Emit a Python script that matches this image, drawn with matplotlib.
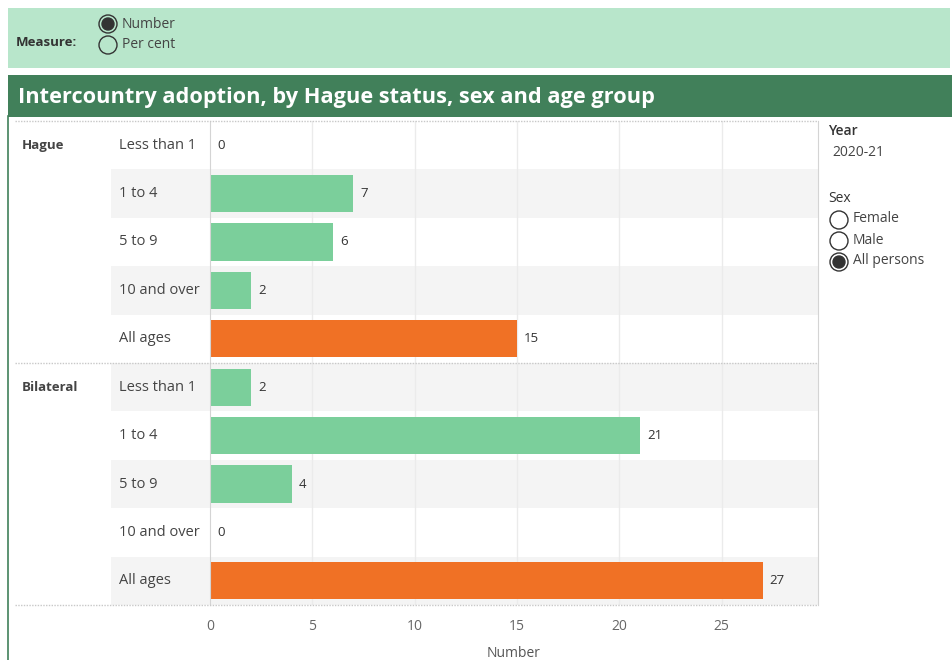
import matplotlib.pyplot as plt
from matplotlib.patches import Rectangle, Circle

plt.rcParams['font.family'] = ['Open Sans', 'DejaVu Sans']

# data
groups = ["Hague", "Bilateral"]
ages = ["Less than 1", "1 to 4", "5 to 9", "10 and over", "All ages"]
hague = [0, 7, 6, 2, 15]
bilateral = [2, 21, 4, 0, 27]
xticks = [0, 5, 10, 15, 20, 25]

GREEN = '#7bcf9b'
ORANGE = '#f07125'

W, H = 953, 660
fig = plt.figure(figsize=(W / 100, H / 100), dpi=100)

# background layer in pixel coordinates
bg = fig.add_axes([0, 0, 1, 1], zorder=0)
bg.set_xlim(0, W)
bg.set_ylim(H, 0)
bg.axis('off')

bg.add_patch(Rectangle((8, 8), 942, 60, color='#b8e6cb', lw=0))
bg.add_patch(Rectangle((8, 75), 945, 42, color='#41805a', lw=0))
bg.plot([8.5, 8.5], [116, 660], color='#41805a', lw=1.2)
bg.text(18, 97, "Intercountry adoption, by Hague status, sex and age group",
        color='white', fontsize=15.7, fontweight='bold', va='center', ha='left')

# measure control
bg.text(16, 42, "Measure:", fontsize=9.5, fontweight='bold', color='#333333', va='center')
for y, lab, sel in [(24, "Number", True), (45, "Per cent", False)]:
    bg.add_patch(Circle((108, y), 9, fill=False, ec='#333333', lw=1))
    if sel:
        bg.add_patch(Circle((108, y), 6, color='#333333'))
    bg.text(122, y, lab, fontsize=10, color='#444444', va='center')

# right side controls
bg.text(828, 131, "Year", fontsize=10, fontweight='semibold', color='#333333', va='center')
bg.text(832, 153, "2020-21", fontsize=10, color='#444444', va='center')
bg.text(828, 199, "Sex", fontsize=10, color='#333333', va='center')
for y, lab, sel in [(220, "Female", False), (241, "Male", False), (262, "All persons", True)]:
    bg.add_patch(Circle((839, y), 9, fill=False, ec='#333333', lw=1))
    if sel:
        bg.add_patch(Circle((839, y), 6, color='#333333'))
    bg.text(853, y - 1, lab, fontsize=10, color='#444444', va='center')

# main chart
left, right, top, bottom = 210, 818, 121, 605
ax = fig.add_axes([left / W, 1 - bottom / H, (right - left) / W, (bottom - top) / H], zorder=1)
ax.set_facecolor('none')

values = hague + bilateral
colors = [ORANGE if a == "All ages" else GREEN for g in groups for a in ages]
rows = list(range(len(values)))

xmax = 29.7
ax.set_xlim(0, xmax)
ax.set_ylim(len(values) - 0.5, -0.5)

band_x0 = (111 - left) / (right - left)
for r in rows:
    if r % 2 == 1:
        ax.axhspan(r - 0.5, r + 0.5, xmin=band_x0, xmax=1, color='#f4f4f4', lw=0,
                   clip_on=False, zorder=0)

for t in xticks[1:]:
    ax.axvline(t, color='#ebebeb', lw=1, zorder=1)

ax.barh(rows, values, height=0.77, color=colors, zorder=2)
for r, v in zip(rows, values):
    ax.annotate(str(v), (v, r), xytext=(5, 0), textcoords='offset points',
                va='center', ha='left', fontsize=9.5, color='#333333')

# group dividers
sep_x0 = (15 - left) / (right - left)
for yb in [-0.5, len(ages) - 0.5, len(values) - 0.5]:
    ax.plot([sep_x0, 1], [yb, yb], transform=ax.get_yaxis_transform(), color='#c8c8c8',
            lw=1, ls=(0, (1, 1)), clip_on=False, zorder=3)

# row and group labels
trans = ax.get_yaxis_transform()
lab_x = (119 - left) / (right - left)
grp_x = (22 - left) / (right - left)
for gi, g in enumerate(groups):
    ax.text(grp_x, gi * len(ages), g, transform=trans, fontsize=9.5, fontweight='bold',
            color='#444444', va='center', ha='left')
    for ai, a in enumerate(ages):
        ax.text(lab_x, gi * len(ages) + ai, a, transform=trans, fontsize=10.5,
                color='#444444', va='center', ha='left')

ax.set_yticks([])
ax.set_xticks(xticks)
ax.tick_params(axis='x', length=0, pad=10, labelsize=10, labelcolor='#666666')
for s in ['top', 'bottom']:
    ax.spines[s].set_visible(False)
ax.spines['left'].set_color('#d4d4d4')
ax.spines['right'].set_color('#d4d4d4')
ax.set_xlabel("Number", fontsize=10, color='#555555', labelpad=9)

fig.savefig("out.png", dpi=100)
